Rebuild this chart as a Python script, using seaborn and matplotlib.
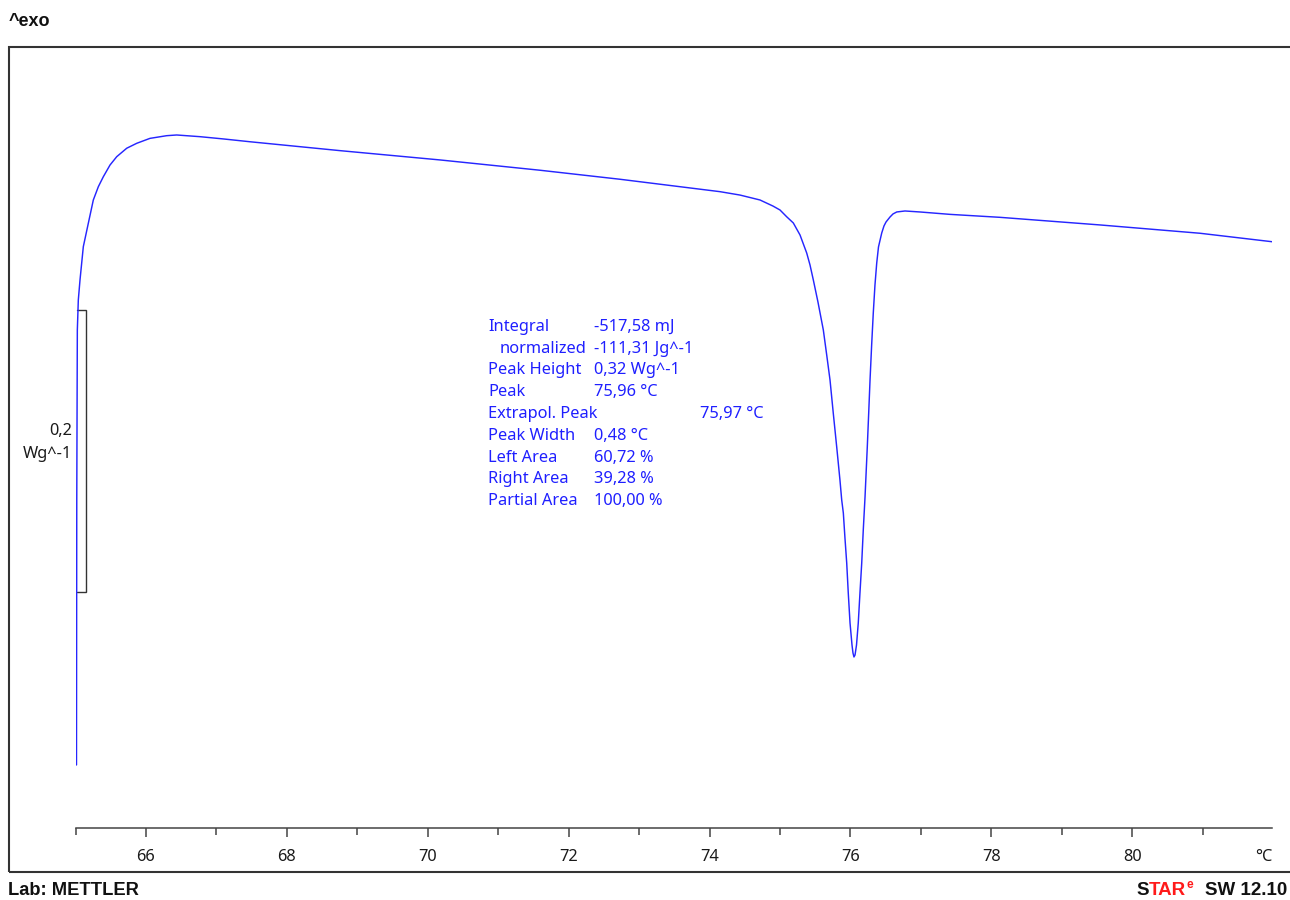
import matplotlib
matplotlib.use("Agg")
import matplotlib.pyplot as plt
import seaborn as sns
import pandas as pd
from matplotlib.patches import Rectangle

# ---------------- data ----------------
temperature_c = [65.014, 65.018, 65.026, 65.040, 65.064, 65.111, 65.182, 65.253,
                 65.324, 65.395, 65.490, 65.585, 65.727, 65.869, 66.057, 66.294,
                 66.436, 66.767, 67.098, 67.477, 68.754, 70.174, 71.593, 72.729,
                 74.148, 74.432, 74.716, 74.900, 75.000, 75.095, 75.189, 75.284,
                 75.379, 75.426, 75.473, 75.539, 75.615, 75.663, 75.710, 75.756,
                 75.805, 75.851, 75.876, 75.899, 75.922, 75.947, 75.969, 75.994,
                 76.022, 76.036, 76.050, 76.065, 76.086, 76.111, 76.135, 76.160,
                 76.182, 76.207, 76.239, 76.259, 76.278, 76.301, 76.324, 76.348,
                 76.373, 76.398, 76.444, 76.476, 76.505, 76.561, 76.604, 76.657,
                 76.774, 76.987, 77.413, 78.123, 79.542, 80.962, 81.984]
heat_flow_wg = [0.0447, 0.2326, 0.3532, 0.3745, 0.3887, 0.4123, 0.4289, 0.4454,
                0.4548, 0.4619, 0.4702, 0.4761, 0.4821, 0.4856, 0.4891, 0.4910,
                0.4915, 0.4903, 0.4887, 0.4867, 0.4804, 0.4738, 0.4665, 0.4601,
                0.4513, 0.4489, 0.4454, 0.4411, 0.4383, 0.4335, 0.4291, 0.4206,
                0.4078, 0.3993, 0.3887, 0.3730, 0.3532, 0.3355, 0.3177, 0.2943,
                0.2702, 0.2468, 0.2326, 0.2234, 0.2057, 0.1879, 0.1667, 0.1454,
                0.1298, 0.1241, 0.1213, 0.1227, 0.1298, 0.1454, 0.1667, 0.1879,
                0.2113, 0.2348, 0.2702, 0.2943, 0.3177, 0.3426, 0.3652, 0.3851,
                0.4007, 0.4121, 0.4220, 0.4270, 0.4298, 0.4333, 0.4355, 0.4369,
                0.4376, 0.4369, 0.4352, 0.4331, 0.4277, 0.4218, 0.4158]

x_major_ticks = [66, 68, 70, 72, 74, 76, 78, 80]
x_tick_labels = ["66", "68", "70", "72", "74", "76", "78", "80"]
x_minor_ticks = [65, 67, 69, 71, 73, 75, 77, 79, 81]
x_unit = "°C"

result_labels = ["Integral", "normalized", "Peak Height", "Peak", "Extrapol. Peak",
                 "Peak Width", "Left Area", "Right Area", "Partial Area"]
result_values = ["-517,58 mJ", "-111,31 Jg^-1", "0,32 Wg^-1", "75,96 °C", "",
                 "0,48 °C", "60,72 %", "39,28 %", "100,00 %"]
extrapol_value = "75,97 °C"

scale_bar_value = 0.2          # W/g
scale_bar_top = 0.3674         # W/g
scale_bar_labels = ["0,2", "Wg^-1"]

# ---------------- style ----------------
sns.set_theme(style="white")
plt.rcParams["font.family"] = ["Noto Sans", "DejaVu Sans"]

W, H = 1290, 900
def fx(px):
    return px / W
def fy(py):
    return 1 - py / H

CURVE = "#2626ff"
TXT_BLUE = "#1f1fff"
FRAME = "#333333"
AXC = "#444444"
FS = 11.8

fig = plt.figure(figsize=(W / 100, H / 100), dpi=100)
fig.patch.set_facecolor("white")

# outer frame
fig.add_artist(Rectangle((fx(9), fy(872)), fx(1300) - fx(9), fy(47) - fy(872),
                         transform=fig.transFigure, fill=False, lw=1.5,
                         ec=FRAME, clip_on=False))

ax = fig.add_axes([fx(75.5), fy(828.3), fx(1271.7) - fx(75.5), fy(47) - fy(828.3)])
ax.patch.set_visible(False)

df = pd.DataFrame({"T": temperature_c, "HF": heat_flow_wg})
sns.lineplot(data=df, x="T", y="HF", ax=ax, color=CURVE, lw=1.05,
             sort=False, estimator=None)

ax.set_xlim(65, 65 + (1271.7 - 75.5) / 70.45)
ax.set_ylim((828 - 828.3) / 1410, (828 - 47) / 1410)
ax.set_xlabel("")
ax.set_ylabel("")
for s in ["top", "left", "right"]:
    ax.spines[s].set_visible(False)
ax.spines["bottom"].set_color(AXC)
ax.spines["bottom"].set_linewidth(1.1)
ax.set_yticks([])
ax.set_xticks(x_major_ticks)
ax.set_xticklabels(x_tick_labels)
ax.set_xticks(x_minor_ticks, minor=True)
ax.tick_params(axis="x", which="major", direction="out", length=6.2, width=1.1,
               color=AXC, pad=8.8, labelsize=FS, labelcolor="#1a1a1a", bottom=True)
ax.tick_params(axis="x", which="minor", direction="out", length=4.8, width=1.1,
               color=AXC, bottom=True)

# scale bar bracket
x0 = 65 + (77.3 - 75.5) / 70.45
x1 = 65 + (86.0 - 75.5) / 70.45
yb = scale_bar_top - scale_bar_value
ax.plot([x0, x1, x1, x0], [scale_bar_top, scale_bar_top, yb, yb],
        color=FRAME, lw=1.0, zorder=1, solid_joinstyle="miter")

fig.text(fx(72), fy(435), scale_bar_labels[0], ha="right", va="baseline",
         fontsize=FS, color="#1a1a1a")
fig.text(fx(72), fy(458), scale_bar_labels[1], ha="right", va="baseline",
         fontsize=FS, color="#1a1a1a")

# unit label on x axis
fig.text(fx(1272), fy(861), x_unit, ha="right", va="baseline",
         fontsize=FS, color="#1a1a1a")

# result table
for i, (lab, val) in enumerate(zip(result_labels, result_values)):
    yb_px = 331 + i * 21.75
    xl = 500 if lab == "normalized" else 488
    fig.text(fx(xl), fy(yb_px), lab, ha="left", va="baseline",
             fontsize=FS, color=TXT_BLUE)
    if val:
        fig.text(fx(593.5), fy(yb_px), val, ha="left", va="baseline",
                 fontsize=FS, color=TXT_BLUE)
    if lab == "Extrapol. Peak":
        fig.text(fx(700), fy(yb_px), extrapol_value, ha="left", va="baseline",
                 fontsize=FS, color=TXT_BLUE)

# header / footer
bold_fam = ["Liberation Sans", "DejaVu Sans"]
fig.text(fx(8.5), fy(26.5), "^exo", ha="left", va="baseline", fontsize=13,
         fontweight="bold", family=bold_fam, color="#111111")
fig.text(fx(8.5), fy(895), "Lab: METTLER", ha="left", va="baseline", fontsize=13.2,
         fontweight="bold", family=bold_fam, color="#111111")

renderer = fig.canvas.get_renderer()
bf = dict(fontweight="bold", family=bold_fam, va="baseline", ha="right")
t1 = fig.text(fx(1287), fy(895), "SW 12.10", fontsize=13.5, color="#111111", **bf)
bb = t1.get_window_extent(renderer)
left = bb.x0 - 12
t2 = fig.text(left / W, fy(888), "e", fontsize=8.5, color="#ff1a1a", **bf)
bb2 = t2.get_window_extent(renderer)
t3 = fig.text(bb2.x0 / W, fy(895), "TAR", fontsize=13.5, color="#ff1a1a", **bf)
bb3 = t3.get_window_extent(renderer)
fig.text(bb3.x0 / W, fy(895), "S", fontsize=13.5, color="#111111", **bf)

fig.savefig("out.png", dpi=100)
